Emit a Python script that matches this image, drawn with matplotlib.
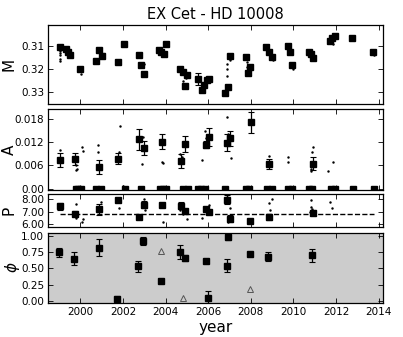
import matplotlib
matplotlib.use("Agg")
import matplotlib.pyplot as plt
import numpy as np

# ---------------- data ----------------
title = "EX Cet - HD 10008"
xlim = (1998.5, 2014.2)
xticks = [2000, 2002, 2004, 2006, 2008, 2010, 2012, 2014]

# M panel (mean value, inverted axis)
m_year = [1999.03, 1999.31, 1999.44, 1999.50, 2000.00, 2000.74, 2000.89, 2001.00,
          2001.77, 2002.07, 2002.77, 2002.86, 2002.97, 2003.71, 2003.80, 2003.91,
          2004.02, 2004.69, 2004.82, 2004.93, 2005.00, 2005.51, 2005.71, 2005.82,
          2005.95, 2006.06, 2006.81, 2006.92, 2007.01, 2007.78, 2007.86, 2007.98,
          2008.73, 2008.84, 2009.00, 2009.73, 2009.83, 2009.94, 2010.72, 2010.83,
          2010.92, 2011.70, 2011.82, 2011.94, 2012.76, 2013.74]
m_val = [0.3103, 0.3114, 0.3125, 0.3139, 0.3201, 0.3164, 0.3119, 0.3142,
         0.3168, 0.3090, 0.3138, 0.3181, 0.3222, 0.3117, 0.3125, 0.3135,
         0.3091, 0.3201, 0.3212, 0.3274, 0.3226, 0.3243, 0.3291, 0.3270,
         0.3248, 0.3245, 0.3306, 0.3277, 0.3143, 0.3149, 0.3219, 0.3190,
         0.3104, 0.3125, 0.3149, 0.3100, 0.3125, 0.3183, 0.3125, 0.3136,
         0.3154, 0.3078, 0.3064, 0.3055, 0.3064, 0.3127]
m_err = [0.0004, 0.0003, 0.0003, 0.0004, 0.0005, 0.0004, 0.0003, 0.0012,
         0.0004, 0.0003, 0.0004, 0.0004, 0.0004, 0.0003, 0.0003, 0.0010,
         0.0004, 0.0004, 0.0005, 0.0004, 0.0008, 0.0025, 0.0004, 0.0004,
         0.0004, 0.0004, 0.0004, 0.0004, 0.0005, 0.0006, 0.0005, 0.0006,
         0.0003, 0.0003, 0.0004, 0.0003, 0.0003, 0.0004, 0.0003, 0.0003,
         0.0005, 0.0004, 0.0003, 0.0003, 0.0005, 0.0006]
m_dot_year = [1999.03, 1999.03, 1999.03, 1999.03, 1999.03, 2000.02, 2001.78, 2002.08,
              2003.00, 2004.84, 2004.95, 2005.06, 2006.90, 2006.90, 2006.90, 2007.04,
              2007.80, 2007.80, 2009.05, 2009.97, 2010.95, 2011.85, 2012.78, 2013.76]
m_dot_val = [0.3120, 0.3130, 0.3140, 0.3155, 0.3165, 0.3220, 0.3160, 0.3095,
             0.3180, 0.3250, 0.3240, 0.3215, 0.3200, 0.3230, 0.3180, 0.3160,
             0.3170, 0.3190, 0.3160, 0.3200, 0.3160, 0.3090, 0.3075, 0.3140]

# A panel (amplitude)
a_year = [1999.03, 1999.77, 2000.89, 2001.78, 2002.77, 2002.97, 2003.85, 2004.72,
          2004.93, 2005.92, 2006.04, 2006.89, 2007.01, 2008.00, 2008.84, 2010.92]
a_val = [0.0074, 0.0076, 0.0055, 0.0078, 0.0128, 0.0104, 0.0121, 0.0071,
         0.0116, 0.0114, 0.0134, 0.0119, 0.0130, 0.0171, 0.0064, 0.0065]
a_err = [0.0017, 0.0016, 0.0018, 0.0015, 0.0027, 0.0018, 0.0019, 0.0018,
         0.0020, 0.0010, 0.0023, 0.0022, 0.0020, 0.0028, 0.0012, 0.0017]
a_zero_year = [1999.80, 1999.90, 2000.02, 2000.74, 2000.99, 2002.10, 2002.86,
               2003.76, 2003.87, 2004.00, 2004.82, 2005.03, 2005.52, 2005.68,
               2005.85, 2006.77, 2007.77, 2007.91, 2008.75, 2009.00, 2009.76,
               2009.95, 2010.73, 2010.86, 2011.74, 2011.96, 2012.77, 2013.76]
a_dot_year = [1999.07, 1999.80, 1999.84, 1999.80, 2000.12, 2000.10, 2000.85, 2000.82,
              2001.84, 2001.80, 2002.02, 2002.90, 2002.94, 2003.83, 2003.88, 2004.68,
              2004.78, 2004.80, 2005.70, 2005.86, 2005.90, 2006.90, 2006.92, 2007.05,
              2008.86, 2008.92, 2009.73, 2009.73, 2010.80, 2010.83, 2010.88, 2010.92,
              2011.62, 2011.85]
a_dot_val = [0.0100, 0.0060, 0.0052, 0.0048, 0.0098, 0.0108, 0.0112, 0.0096,
             0.0163, 0.0095, 0.0008, 0.0063, 0.0133, 0.0068, 0.0066, 0.0090,
             0.0082, 0.0074, 0.0074, 0.0150, 0.0130, 0.0185, 0.0142, 0.0080,
             0.0085, 0.0066, 0.0082, 0.0070, 0.0045, 0.0050, 0.0095, 0.0108,
             0.0045, 0.0068]

# P panel (period)
p_year = [1999.03, 1999.75, 2000.90, 2001.78, 2002.77, 2002.97, 2003.85, 2004.72,
          2004.93, 2005.92, 2006.04, 2006.89, 2007.00, 2007.98, 2008.83, 2010.92]
p_val = [7.41, 6.81, 7.19, 7.90, 6.54, 7.55, 7.49, 7.47,
         7.08, 7.22, 6.95, 7.96, 6.43, 6.26, 6.59, 6.92]
p_err = [0.30, 0.20, 0.45, 0.08, 0.08, 0.30, 0.08, 0.30,
         0.08, 0.15, 0.15, 0.35, 0.30, 0.08, 0.25, 0.20]
p_mean = 6.80
p_dot_year = [1999.82, 1999.80, 2000.15, 2000.10, 2000.95, 2001.80, 2003.00, 2003.02,
              2003.90, 2004.70, 2004.80, 2005.00, 2005.70, 2005.95, 2006.02, 2006.90,
              2006.92, 2007.04, 2008.86, 2008.88, 2009.00, 2010.80, 2010.82, 2010.85,
              2010.78, 2011.70, 2011.80]
p_dot_val = [7.60, 6.50, 6.40, 6.20, 7.80, 7.30, 8.00, 7.10,
             6.20, 7.10, 6.80, 6.40, 6.50, 7.40, 7.50, 8.20,
             6.20, 7.30, 7.70, 7.10, 8.00, 7.90, 7.40, 7.20,
             7.00, 7.80, 7.30]

# phi panel (phase)
phi_year = [1999.01, 1999.70, 2000.88, 2001.74, 2002.72, 2002.94, 2003.80, 2004.69,
            2004.90, 2005.90, 2005.98, 2006.87, 2006.95, 2007.97, 2008.80, 2010.89]
phi_val = [0.75, 0.65, 0.82, 0.03, 0.53, 0.92, 0.30, 0.75,
           0.66, 0.62, 0.05, 0.54, 0.98, 0.72, 0.68, 0.70]
phi_err = [0.07, 0.10, 0.13, 0.05, 0.08, 0.06, 0.01, 0.11,
           0.04, 0.02, 0.10, 0.10, 0.05, 0.01, 0.07, 0.10]
tri_year = [2003.80, 2004.82, 2007.98]
tri_val = [0.76, 0.04, 0.18]

# ---------------- figure ----------------
W, H = 403, 337
fig = plt.figure(figsize=(W / 100, H / 100), dpi=100)

def box(top, bottom, left=48.3, right=383.0):
    return [left / W, 1 - bottom / H, (right - left) / W, (bottom - top) / H]

ax1 = fig.add_axes(box(24.7, 104.0))
ax2 = fig.add_axes(box(109.3, 189.5))
ax3 = fig.add_axes(box(194.0, 226.6))
ax4 = fig.add_axes(box(232.7, 302.7))

sq = dict(fmt='s', color='black', ms=3.8, ecolor='black', elinewidth=0.9,
          capsize=2, capthick=0.8, zorder=3)

for ax in (ax1, ax2, ax3, ax4):
    ax.set_xlim(*xlim)
    ax.set_xticks(xticks)
    ax.tick_params(direction='in', top=True, right=True, length=3.5,
                   width=0.6, labelsize=7.5, pad=3)
    for s in ax.spines.values():
        s.set_linewidth(0.9)
    if ax is not ax4:
        ax.set_xticklabels([])

# M
ax1.plot(m_dot_year, m_dot_val, '.', color='black', ms=1.5)
ax1.errorbar(m_year, m_val, yerr=m_err, **sq)
ax1.set_ylim(0.3352, 0.3007)
ax1.set_yticks([0.31, 0.32, 0.33])
ax1.set_yticklabels(['0.31', '0.32', '0.33'])
ax1.set_ylabel('M', fontsize=11)
ax1.set_title(title, fontsize=10.5, pad=4)

# A
ax2.plot(a_dot_year, a_dot_val, '.', color='black', ms=1.5)
ax2.errorbar(a_year, a_val, yerr=a_err, **sq)
ax2.plot(a_zero_year, np.zeros(len(a_zero_year)), 's', color='black', ms=3.8,
         clip_on=True)
ax2.set_ylim(-0.0002, 0.0205)
ax2.set_yticks([0.0, 0.006, 0.012, 0.018])
ax2.set_yticklabels(['0.00', '0.006', '0.012', '0.018'])
ax2.set_ylabel('A', fontsize=11)

# P
ax3.plot(p_dot_year, p_dot_val, '.', color='black', ms=1.5)
ax3.plot([p_year[0], 2013.76], [p_mean, p_mean], '--', color='black', lw=1.0)
ax3.errorbar(p_year, p_val, yerr=p_err, **sq)
ax3.set_ylim(5.8, 8.4)
ax3.set_yticks([6, 7, 8])
ax3.set_yticklabels(['6.00', '7.00', '8.00'])
ax3.set_ylabel('P', fontsize=11)

# phi
ax4.set_facecolor('#cccccc')
ax4.errorbar(phi_year, phi_val, yerr=phi_err, **sq)
ax4.plot(tri_year, tri_val, '^', mfc='none', mec='#555555', ms=3.8, mew=0.7)
ax4.set_ylim(-0.03, 1.05)
ax4.set_yticks([0, 0.25, 0.5, 0.75, 1.0])
ax4.set_yticklabels(['0.00', '0.25', '0.50', '0.75', '1.00'])
ax4.set_ylabel(r'$\phi$', fontsize=11)
ax4.set_xticklabels([str(t) for t in xticks])
ax4.set_xlabel('year', fontsize=11, labelpad=2)

for ax in (ax1, ax2, ax3):
    ax.yaxis.set_label_coords(-0.095, 0.5)
ax4.yaxis.set_label_coords(-0.08, 0.5)

fig.savefig('out.png', dpi=100)
